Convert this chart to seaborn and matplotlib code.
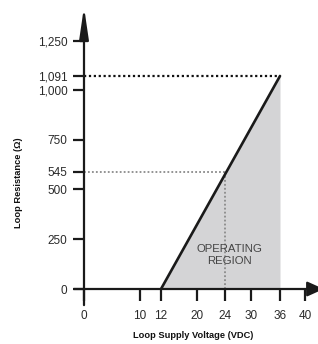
import numpy as np
import matplotlib
matplotlib.use("Agg")
import matplotlib.pyplot as plt
import seaborn as sns

# ---- data ----
voltage = [12, 36]            # VDC: min supply, max supply
resistance = [0, 1091]        # Ohm at those voltages
ref_voltage = 24
ref_resistance = 545
x_ticks = [0, 10, 12, 20, 24, 30, 36, 40]
x_labels = ["0", "10", "12", "20", "24", "30", "36", "40"]
y_ticks = [0, 250, 500, 545, 750, 1000, 1091, 1250]
y_labels = ["0", "250", "500", "545", "750", "1,000", "1,091", "1,250"]
region_label = "OPERATING\nREGION"
x_title = "Loop Supply Voltage (VDC)"
y_title = "Loop Resistance (\u03a9)"

# ---- schematic (non-linear) axis layout ----
X_POS = [0, 56, 77, 113, 141, 167, 196, 221]
Y_POS = [0, 50, 100, 117, 149, 199, 213, 248]


def make_scale(knots, pos):
    k = np.asarray(knots, float)
    p = np.asarray(pos, float)

    def fwd(v):
        v = np.asarray(v, float)
        out = np.interp(v, k, p)
        lo = v < k[0]
        hi = v > k[-1]
        out = np.where(lo, p[0] + (v - k[0]) * (p[1] - p[0]) / (k[1] - k[0]), out)
        out = np.where(hi, p[-1] + (v - k[-1]) * (p[-1] - p[-2]) / (k[-1] - k[-2]), out)
        return out

    def inv(u):
        u = np.asarray(u, float)
        out = np.interp(u, p, k)
        lo = u < p[0]
        hi = u > p[-1]
        out = np.where(lo, k[0] + (u - p[0]) * (k[1] - k[0]) / (p[1] - p[0]), out)
        out = np.where(hi, k[-1] + (u - p[-1]) * (k[-1] - k[-2]) / (p[-1] - p[-2]), out)
        return out

    return fwd, inv


sns.set_style("white")
plt.rcParams["font.family"] = ["Liberation Sans", "DejaVu Sans"]

W, H = 318, 344
fig = plt.figure(figsize=(W / 100, H / 100), dpi=100)
ax = fig.add_axes([84 / W, (H - 289) / H, 221 / W, 248 / H])
ax.set_xscale("function", functions=make_scale(x_ticks, X_POS))
ax.set_yscale("function", functions=make_scale(y_ticks, Y_POS))
ax.set_xlim(x_ticks[0], x_ticks[-1])
ax.set_ylim(y_ticks[0], y_ticks[-1])
ax.patch.set_alpha(0)

# operating region fill
ax.fill_between([voltage[0], voltage[1]], [resistance[0], resistance[1]],
                resistance[0], color="#d4d4d6", linewidth=0, zorder=1)

# reference dotted lines
ax.plot([0, voltage[1]], [resistance[1], resistance[1]], color="#111111",
        lw=1.6, linestyle=(0, (1, 1.2)), zorder=2, clip_on=False)
ax.plot([0, ref_voltage], [ref_resistance, ref_resistance], color="#8a8a8a",
        lw=1.3, linestyle=(0, (1, 1.2)), zorder=2)
ax.plot([ref_voltage, ref_voltage], [0, ref_resistance], color="#8a8a8a",
        lw=1.3, linestyle=(0, (1, 1.2)), zorder=2)

# main line
sns.lineplot(x=voltage, y=resistance, ax=ax, color="#1a1a1a", lw=1.9,
             zorder=3, clip_on=False)

ax.text(25, 170, region_label, ha="center", va="center", fontsize=8.2,
        color="#444444", linespacing=1.25, zorder=4)

# axes lines with arrows
for s in ax.spines.values():
    s.set_visible(False)
ax.annotate("", xy=(0, 1.137), xytext=(0, -0.065), xycoords="axes fraction",
            textcoords="axes fraction",
            arrowprops=dict(arrowstyle="-|>,head_length=1.9,head_width=0.28",
                            color="#1a1a1a", lw=1.6, shrinkA=0, shrinkB=0,
                            mutation_scale=10), zorder=5)
ax.annotate("", xy=(1.085, 0), xytext=(-0.045, 0), xycoords="axes fraction",
            textcoords="axes fraction",
            arrowprops=dict(arrowstyle="-|>,head_length=1.0,head_width=0.45",
                            color="#1a1a1a", lw=1.6, shrinkA=0, shrinkB=0,
                            mutation_scale=10), zorder=5)

ax.set_xticks(x_ticks)
ax.set_xticklabels(x_labels)
ax.set_yticks(y_ticks)
ax.set_yticklabels(y_labels)
ax.xaxis.set_minor_locator(matplotlib.ticker.NullLocator())
ax.yaxis.set_minor_locator(matplotlib.ticker.NullLocator())
ax.tick_params(axis="x", direction="out", length=8.6, width=1.6, color="#1a1a1a",
               pad=6.5, labelsize=8.5, labelcolor="#2a2a2a", bottom=True)
ax.tick_params(axis="y", direction="out", length=8, width=1.6, color="#1a1a1a",
               pad=4, labelsize=8.5, labelcolor="#2a2a2a", left=True)
ax.grid(False)

ax.set_xlabel(x_title, fontsize=6.7, fontweight="bold", color="#111111")
ax.xaxis.set_label_coords((193 - 84) / 221, (289 - 335) / 248)
ax.xaxis.label.set_va("center")
ax.set_ylabel(y_title, fontsize=6.7, fontweight="bold", color="#111111")
ax.yaxis.set_label_coords((18 - 84) / 221, (289 - 183) / 248)
ax.yaxis.label.set_va("center")

fig.savefig("out.png", dpi=100)
